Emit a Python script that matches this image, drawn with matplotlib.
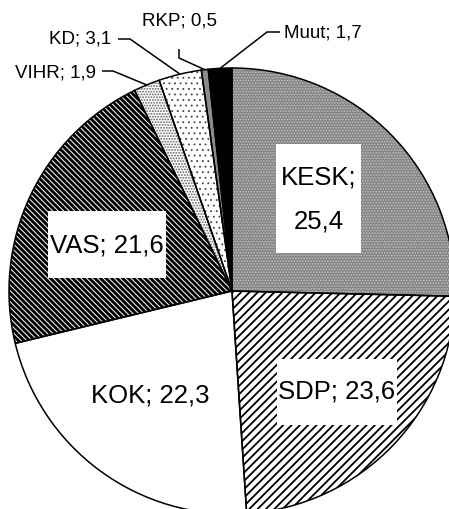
import numpy as np
import matplotlib.pyplot as plt
from matplotlib.patches import Rectangle

# Eduskuntavaalit, puolueiden osuudet (%)
puolueet = ['KESK', 'SDP', 'KOK', 'VAS', 'VIHR', 'KD', 'RKP', 'Muut']
osuudet = [25.4, 23.6, 22.3, 21.6, 1.9, 3.1, 0.5, 1.7]
tekstit = ['25,4', '23,6', '22,3', '21,6', '1,9', '3,1', '0,5', '1,7']

pohjavarit = ['#858585', 'white', 'white', 'white', 'white', 'white', '#8c8c8c', 'black']
kuviot = ['......', '////', '', '\\' * 6, '......', '...', '', '']
kuviovarit = ['#c0c0c0', 'black', 'black', 'black', '#606060', '#444444', 'black', 'black']
kuvioleveys = [0.8, 1.3, 1.0, 2.1, 0.9, 0.6, 1.0, 1.0]

plt.rcParams['font.family'] = ['Liberation Sans', 'DejaVu Sans']
plt.rcParams['hatch.linewidth'] = 1.3

fig = plt.figure(figsize=(4.49, 5.10), dpi=100)
ax = fig.add_axes([0, 0, 1, 1])

keski = (232, 218)
sade = 223

# pohjat ja kuviot
wedges, _ = ax.pie(osuudet, colors=pohjavarit, startangle=90, counterclock=False,
                   center=keski, radius=sade, wedgeprops=dict(linewidth=0))
for w, h, c, lw in zip(wedges, kuviot, kuviovarit, kuvioleveys):
    w.set_hatch(h)
    w.set_edgecolor(c)
    w.set_linewidth(0)
    if hasattr(w, 'set_hatch_linewidth'):
        w.set_hatch_linewidth(lw)

# reunaviivat
ax.pie(osuudet, startangle=90, counterclock=False, center=keski, radius=sade,
       wedgeprops=dict(fill=False, edgecolor='black', linewidth=1.1))

ax.set_xlim(0, 449)
ax.set_ylim(0, 510)
ax.set_aspect('equal')
ax.axis('off')

H = 510  # kuvan korkeus, y-akseli kuvakoordinaateista

# isot nimiöt valkoisilla laatikoilla
laatikot = {'KESK': (276, 145, 85, 109), 'SDP': (277, 360, 120, 66), 'VAS': (48, 212, 118, 67)}
for nimi, (x, y, lev, kor) in laatikot.items():
    ax.add_patch(Rectangle((x, H - y - kor), lev, kor, facecolor='white', edgecolor='none', zorder=3))

iso = dict(fontsize=18.5, ha='center', va='baseline', zorder=4)
ax.text(318.5, H - 185, puolueet[0] + ';', **iso)
ax.text(318.5, H - 229, tekstit[0], **iso)
ax.text(337, H - 399, puolueet[1] + '; ' + tekstit[1], **iso)
ax.text(150, H - 403, puolueet[2] + '; ' + tekstit[2], **iso)
ax.text(107, H - 252, puolueet[3] + '; ' + tekstit[3], **iso)

# pienet nimiöt ja johtoviivat
kulmat = [(w.theta1 + w.theta2) / 2 for w in wedges]
pienet = {
    # indeksi: (tekstin x, perusviiva y, ha, viivan polku ennen kiilaa)
    4: (15, 78, 'left', [(102, 72), (113, 72)]),
    5: (49, 44, 'left', [(118, 40), (130, 40)]),
    6: (180, 26, 'center', [(179, 50), (179, 59)]),
    7: (284, 37, 'left', [(280, 33), (267, 33)]),
}
for i, (tx, ty, ha, polku) in pienet.items():
    ax.text(tx, H - ty, puolueet[i] + '; ' + tekstit[i], fontsize=13.5, ha=ha, va='baseline')
    kulma = np.deg2rad(kulmat[i])
    px = keski[0] + sade * np.cos(kulma)
    py = keski[1] + sade * np.sin(kulma)
    xs = [p[0] for p in polku] + [px]
    ys = [H - p[1] for p in polku] + [py]
    ax.plot(xs, ys, color='black', linewidth=1.1, solid_capstyle='butt')

fig.savefig('out.png', dpi=100)
